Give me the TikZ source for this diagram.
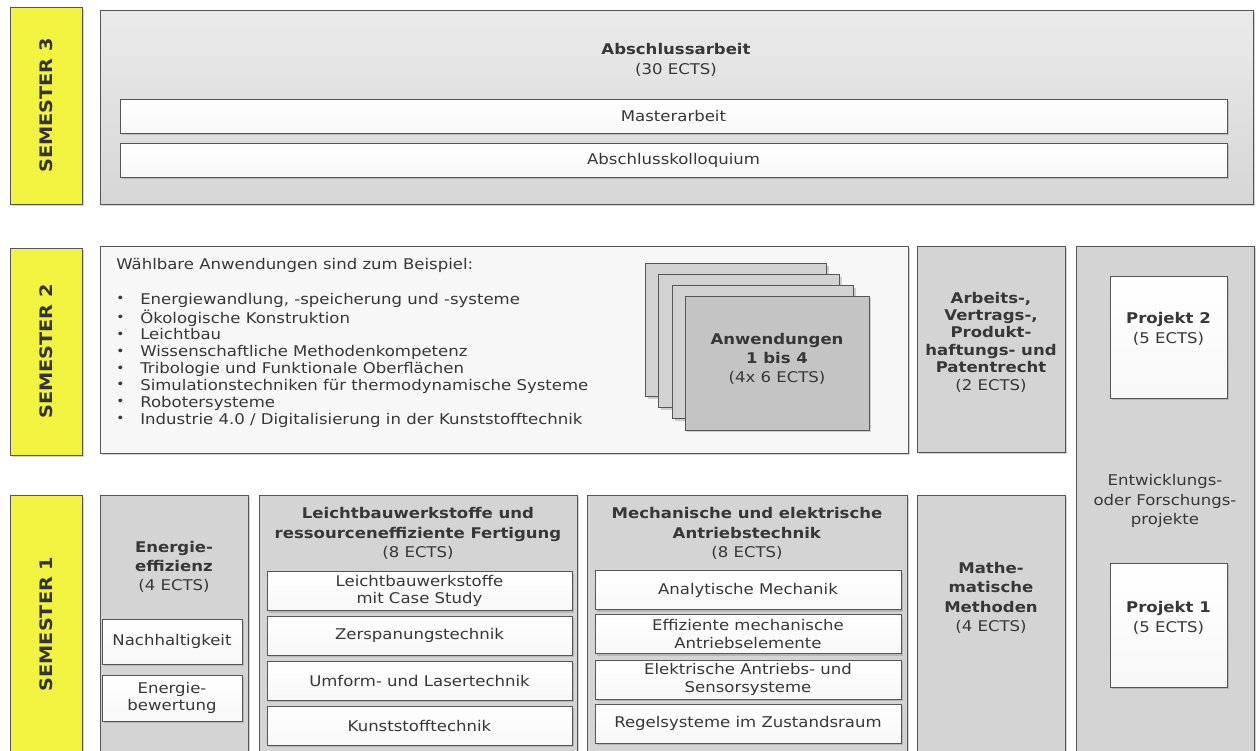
\documentclass[tikz,border=0pt]{standalone}
\usepackage{fontspec}
\setmainfont{DejaVu Sans}[FakeStretch=1.12]
\usetikzlibrary{positioning,shadows}
\definecolor{semyellow}{RGB}{242,242,64}
\definecolor{blockgray}{RGB}{212,212,212}
\definecolor{cardgray}{RGB}{210,210,210}
\definecolor{frontgray}{RGB}{196,196,196}
\definecolor{framegray}{RGB}{85,85,85}
\definecolor{txtgray}{RGB}{55,55,55}

\begin{document}
\begin{tikzpicture}[x=0.02cm, y=-0.02cm,
    font=\fontsize{8.4}{11}\selectfont, text=txtgray,
    wh/.style 2 args={minimum width=#1*0.02cm, minimum height=#2*0.02cm},
    shade/.style={drop shadow={shadow xshift=1.2pt, shadow yshift=-1.2pt, opacity=0.35}},
    sem/.style={draw=framegray, fill=semyellow, rotate=90, inner sep=0pt, shade,
        font=\fontsize{9.8}{12}\selectfont\bfseries, text=black!80},
    block/.style={draw=framegray, fill=blockgray, inner sep=0pt, shade, align=center},
    sub/.style={draw=framegray, top color=white, bottom color=gray!6, inner sep=0pt,
        shade, align=center, font=\fontsize{8.4}{10}\selectfont},
    card/.style={draw=framegray, fill=cardgray, inner sep=0pt, shade, align=center},
    title/.style={align=center, inner sep=0pt}
]
\clip (0,0) rectangle (1259,751);
\fill[white] (0,0) rectangle (1259,751);

% semester labels
\node[sem, wh={197}{72}] (sem3) at (46,105.5) {SEMESTER 3};
\node[sem, wh={207}{72}] (sem2) at (46,351.5) {SEMESTER 2};
\node[sem, wh={258}{72}] (sem1) at (46,624) {SEMESTER 1};

% semester 3
\node[block, top color=gray!16, bottom color=gray!32, wh={1153}{194}] (s3blk) at (676.5,107) {};
\node[title] (s3title) at (676,60) {\textbf{Abschlussarbeit}\\(30 ECTS)};
\node[sub, wh={1107}{34}] (master) at (673.5,116) {Masterarbeit};
\node[sub, wh={1107}{34}] (kollo) at (673.5,160) {Abschlusskolloquium};

% semester 2
\node[block, fill=gray!6, wh={808}{207}] (s2blk) at (504,349.5) {};
\node[anchor=north west, align=left, inner sep=0pt] (wahl) at (116,257) {%
  \fontsize{8.4}{9.6}\selectfont
  \begin{tabular}{@{}l@{\hspace{9pt}}l@{}}
  \multicolumn{2}{@{}l}{W\"ahlbare Anwendungen sind zum Beispiel:}\\[10.5pt]
  \raisebox{.2ex}{\scriptsize\textbullet} & Energiewandlung, -speicherung und -systeme\\
  \raisebox{.2ex}{\scriptsize\textbullet} & \"Okologische Konstruktion\\
  \raisebox{.2ex}{\scriptsize\textbullet} & Leichtbau\\
  \raisebox{.2ex}{\scriptsize\textbullet} & Wissenschaftliche Methodenkompetenz\\
  \raisebox{.2ex}{\scriptsize\textbullet} & Tribologie und Funktionale Oberfl\"achen\\
  \raisebox{.2ex}{\scriptsize\textbullet} & Simulationstechniken f\"ur thermodynamische Systeme\\
  \raisebox{.2ex}{\scriptsize\textbullet} & Robotersysteme\\
  \raisebox{.2ex}{\scriptsize\textbullet} & Industrie 4.0 / Digitalisierung in der Kunststofftechnik
  \end{tabular}};
\node[card, wh={181}{133}] (card1) at (736,330) {};
\node[card, wh={181}{133}] (card2) at (749,341) {};
\node[card, wh={181}{133}] (card3) at (763,352) {};
\node[card, fill=frontgray, wh={184}{134}] (anw) at (777,363) {};
\node[title] (anwT) at (777,359) {\textbf{Anwendungen}\\\textbf{1 bis 4}\\(4x 6 ECTS)};
\node[block, wh={148}{206}] (recht) at (991,349) {};
\node[title, font=\fontsize{8.4}{9.9}\selectfont] (rechtT) at (991,342)
  {\textbf{Arbeits-,}\\\textbf{Vertrags-,}\\\textbf{Produkt-}\\\textbf{haftungs- und}\\\textbf{Patentrecht}\\(2 ECTS)};

% projects column
\node[block, wh={178}{520}] (proj) at (1165,506) {};
\node[sub, wh={117}{122}] (proj2) at (1168.5,337) {};
\node[title] (proj2T) at (1168.5,329) {\textbf{Projekt 2}\\(5 ECTS)};
\node[title] (entw) at (1165,501) {Entwicklungs-\\oder Forschungs-\\projekte};
\node[sub, wh={117}{124}] (proj1) at (1168.5,625) {};
\node[title] (proj1T) at (1168.5,618) {\textbf{Projekt 1}\\(5 ECTS)};

% semester 1
\node[block, wh={148}{270}] (energ) at (174,630) {};
\node[title] (energT) at (174,567) {\textbf{Energie-}\\\textbf{effizienz}\\(4 ECTS)};
\node[sub, wh={140}{45}] (nachh) at (172,641.5) {Nachhaltigkeit};
\node[sub, wh={140}{46}] (bewert) at (172,698) {Energie-\\bewertung};

\node[block, wh={318}{270}] (leicht) at (418,630) {};
\node[title] (leichtT) at (418,533.5) {\textbf{Leichtbauwerkstoffe und}\\\textbf{ressourceneffiziente Fertigung}\\(8 ECTS)};
\node[sub, wh={305}{39}] (lw1) at (419.5,591) {Leichtbauwerkstoffe\\mit Case Study};
\node[sub, wh={305}{39}] (lw2) at (419.5,635.5) {Zerspanungstechnik};
\node[sub, wh={305}{39}] (lw3) at (419.5,680.5) {Umform- und Lasertechnik};
\node[sub, wh={305}{39}] (lw4) at (419.5,725.5) {Kunststofftechnik};

\node[block, wh={320}{270}] (antr) at (747,630) {};
\node[title] (antrT) at (747,533.5) {\textbf{Mechanische und elektrische}\\\textbf{Antriebstechnik}\\(8 ECTS)};
\node[sub, wh={306}{39}] (an1) at (748,590) {Analytische Mechanik};
\node[sub, wh={306}{39}] (an2) at (748,634) {Effiziente mechanische\\Antriebselemente};
\node[sub, wh={306}{39}] (an3) at (748,679.5) {Elektrische Antriebs- und\\Sensorsysteme};
\node[sub, wh={306}{39}] (an4) at (748,723.5) {Regelsysteme im Zustandsraum};

\node[block, wh={148}{270}] (mathe) at (991,630) {};
\node[title] (matheT) at (991,598) {\textbf{Mathe-}\\\textbf{matische}\\\textbf{Methoden}\\(4 ECTS)};
\end{tikzpicture}
\end{document}
